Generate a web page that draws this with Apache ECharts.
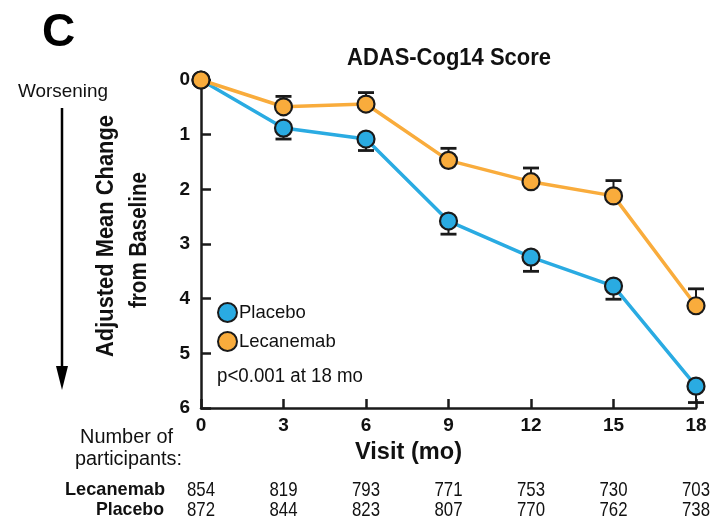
<!DOCTYPE html>
<html><head><meta charset="utf-8">
<script src="https://cdn.jsdelivr.net/npm/echarts@6/dist/echarts.min.js"></script>
<style>html,body{margin:0;padding:0;background:#fff}#c{width:710px;height:520px}</style>
</head><body><div id="c"></div>
<script>
const visits = [0, 3, 6, 9, 12, 15, 18];
const placebo = [0, 0.88, 1.08, 2.58, 3.24, 3.77, 5.60];
const placeboErr = [0, 0.20, 0.21, 0.24, 0.26, 0.24, 0.30];
const lecanemab = [0, 0.49, 0.44, 1.47, 1.86, 2.12, 4.13];
const lecanemabErr = [0, 0.19, 0.21, 0.22, 0.25, 0.28, 0.31];
const nLecanemab = [854, 819, 793, 771, 753, 730, 703];
const nPlacebo = [872, 844, 823, 807, 770, 762, 738];
const yTicks = [0, 1, 2, 3, 4, 5, 6];

const BLUE = '#2aabe2', ORANGE = '#f9ac3c', DARK = '#1a1a1a';
const FONT = '"Liberation Sans", Arial, Helvetica, sans-serif';

const cv = document.createElement('canvas').getContext('2d');
function measure(text, font) { cv.font = font; return cv.measureText(text).width; }

// text that is horizontally condensed to a target width (mimics a condensed typeface)
function ctext(text, font, x, y, width, align, rotation) {
  const w = measure(text, font);
  const s = width / w;
  return {
    type: 'text', x: x, y: y, rotation: rotation || 0, scaleX: s, originX: 0, originY: 0,
    style: { text: text, font: font, fill: '#111', textAlign: align || 'center', textVerticalAlign: 'middle' }
  };
}

const chart = echarts.init(document.getElementById('c'));

function errSeries(name, vals, errs, dir) {
  return {
    type: 'custom', name: name + 'err', z: 1, silent: true,
    data: visits.map((v, i) => [v, vals[i], errs[i]]),
    renderItem: function (params, api) {
      const x = api.value(0), y = api.value(1), e = api.value(2);
      if (!e) return;
      const p0 = api.coord([x, y]);
      const p1 = api.coord([x, y + dir * e]);
      const w = 8;
      return {
        type: 'group',
        children: [
          { type: 'line', shape: { x1: p0[0], y1: p0[1], x2: p1[0], y2: p1[1] }, style: { stroke: DARK, lineWidth: 2 } },
          { type: 'line', shape: { x1: p1[0] - w, y1: p1[1], x2: p1[0] + w, y2: p1[1] }, style: { stroke: DARK, lineWidth: 2.8 } }
        ]
      };
    }
  };
}

const option = {
  animation: false,
  grid: { left: 201, right: 14, top: 80, bottom: 112 },
  legend: {
    left: 212, top: 297, orient: 'vertical', itemGap: 8,
    itemWidth: 19, itemHeight: 19, icon: 'circle',
    data: ['Placebo', 'Lecanemab'],
    textStyle: { fontFamily: FONT, fontSize: 18.5, color: '#111', padding: [0, 0, 0, -3] }
  },
  xAxis: {
    type: 'value', min: 0, max: 18, interval: 3, position: 'bottom',
    axisLine: { onZero: false, lineStyle: { color: DARK, width: 2.5 } },
    axisTick: { inside: true, length: 9, lineStyle: { color: DARK, width: 2.5 } },
    axisLabel: { fontFamily: FONT, fontSize: 19, fontWeight: 'bold', color: '#111', margin: 8 },
    splitLine: { show: false }
  },
  yAxis: {
    type: 'value', min: 0, max: 6, interval: 1, inverse: true,
    axisLine: { show: true, onZero: false, lineStyle: { color: DARK, width: 2.5 } },
    axisTick: { show: true, inside: true, length: 10, lineStyle: { color: DARK, width: 2.5 } },
    axisLabel: {
      fontFamily: FONT, fontSize: 19, fontWeight: 'bold', color: '#111', margin: 11,
      formatter: v => yTicks.includes(v) ? String(v) : ''
    },
    splitLine: { show: false }
  },
  series: [
    errSeries('Placebo', placebo, placeboErr, 1),
    errSeries('Lecanemab', lecanemab, lecanemabErr, -1),
    {
      name: 'Placebo', type: 'line', z: 3,
      data: visits.map((v, i) => [v, placebo[i]]),
      symbol: 'circle', symbolSize: 17,
      lineStyle: { color: BLUE, width: 3.5 },
      itemStyle: { color: BLUE, borderColor: DARK, borderWidth: 2.2 }
    },
    {
      name: 'Lecanemab', type: 'line', z: 4,
      data: visits.map((v, i) => [v, lecanemab[i]]),
      symbol: 'circle', symbolSize: 17,
      lineStyle: { color: ORANGE, width: 3.5 },
      itemStyle: { color: ORANGE, borderColor: DARK, borderWidth: 2.2 }
    }
  ]
};
chart.setOption(option);

const g = [
  { type: 'text', x: 42, y: 33, style: { text: 'C', font: 'bold 46px ' + FONT, fill: '#000', textVerticalAlign: 'middle' } },
  ctext('ADAS-Cog14 Score', 'bold 24px ' + FONT, 347, 58, 204, 'left'),
  ctext('Worsening', '19px ' + FONT, 18, 92, 90, 'left'),
  { type: 'line', shape: { x1: 62, y1: 108, x2: 62, y2: 370 }, style: { stroke: '#000', lineWidth: 2.5 } },
  { type: 'polygon', shape: { points: [[56, 366], [68, 366], [62, 390]] }, style: { fill: '#000' } },
  ctext('Adjusted Mean Change', 'bold 23px ' + FONT, 107, 357, 242, 'left', Math.PI / 2),
  ctext('from Baseline', 'bold 23px ' + FONT, 140, 308, 136, 'left', Math.PI / 2),
  ctext('p<0.001 at 18 mo', '20px ' + FONT, 217, 376, 146, 'left'),
  ctext('Visit (mo)', 'bold 24px ' + FONT, 355, 452, 107, 'left'),
  ctext('Number of', '20px ' + FONT, 80, 437, 93, 'left'),
  ctext('participants:', '20px ' + FONT, 75, 459, 107, 'left'),
  ctext('Lecanemab', 'bold 19px ' + FONT, 65, 490, 100, 'left'),
  ctext('Placebo', 'bold 19px ' + FONT, 96, 510, 68, 'left')
];
visits.forEach((v, i) => {
  const px = chart.convertToPixel({ xAxisIndex: 0 }, v);
  const a = String(nLecanemab[i]), b = String(nPlacebo[i]);
  const f = '21px ' + FONT;
  const wa = measure(a, f) * 0.8, wb = measure(b, f) * 0.8;
  g.push(ctext(a, f, px - wa / 2, 490, wa, 'left'));
  g.push(ctext(b, f, px - wb / 2, 510, wb, 'left'));
});
chart.setOption({ graphic: g });
</script></body></html>
